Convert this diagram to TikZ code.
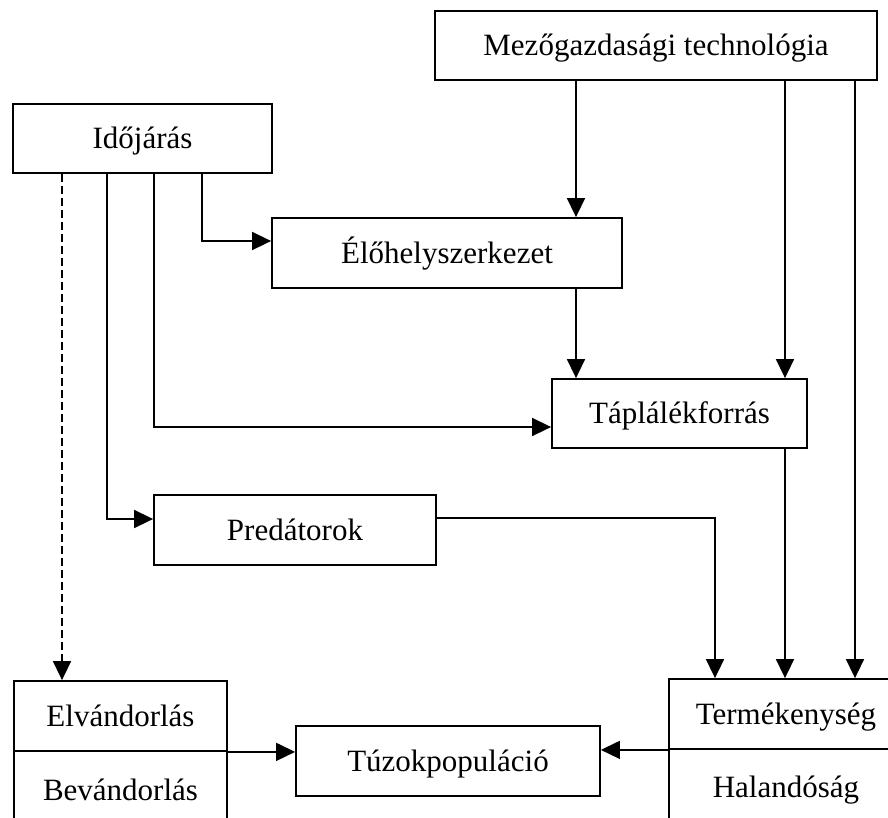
\documentclass[tikz,border=0pt]{standalone}
\usepackage{fontspec}
\setmainfont{Liberation Serif}
\usetikzlibrary{arrows.meta}
\begin{document}
\begin{tikzpicture}[x=1pt,y=-1pt,
  box/.style={draw,line width=1.8pt,rectangle,inner sep=0pt,text height=20pt,text depth=0pt,
    font=\fontsize{31}{37}\selectfont},
  conn/.style={line width=1.6pt,-{Triangle[length=19pt,width=18pt]}}]
\useasboundingbox (0,0) rectangle (888,817);
\clip (0,0) rectangle (888,817);
\fill[white] (0,0) rectangle (888,817);
\node[box,minimum width=442pt,minimum height=69pt] (mezo) at (656,45.5) {Mezőgazdasági technológia};
\node[box,minimum width=259pt,minimum height=69pt] (ido) at (142.5,138.5) {Időjárás};
\node[box,minimum width=350pt,minimum height=70pt] (elo) at (447,253) {Élőhelyszerkezet};
\node[box,minimum width=255pt,minimum height=69pt] (tapl) at (679.5,413.5) {Táplálékforrás};
\node[box,minimum width=282pt,minimum height=70pt] (pred) at (295,530) {Predátorok};
\node[box,minimum width=213pt,minimum height=70pt] (elvU) at (120.5,716) {Elvándorlás};
\node[box,minimum width=213pt,minimum height=79pt] (elvL) at (120.5,790.5) {Bevándorlás};
\node[box,minimum width=304pt,minimum height=70pt] (tuzok) at (448,761) {Túzokpopuláció};
\node[box,minimum width=234pt,minimum height=70pt] (termU) at (786,714) {Termékenység};
\node[box,minimum width=234pt,minimum height=76pt] (termL) at (786,787) {Halandóság};
% from Mezőgazdasági technológia
\draw[conn] (mezo.south -| 576,0) -- (elo.north -| 576,0);
\draw[conn] (mezo.south -| 785,0) -- (tapl.north -| 785,0);
\draw[conn] (mezo.south -| 855,0) -- (termU.north -| 855,0);
% from Időjárás
\draw[conn] (ido.south -| 202,0) |- (elo.west |- 0,241);
\draw[conn] (ido.south -| 154,0) |- (tapl.west |- 0,427);
\draw[conn] (ido.south -| 107,0) |- (pred.west |- 0,519);
\draw[conn,dash pattern=on 8pt off 4pt] (ido.south -| 62,0) -- (elvU.north -| 62,0);
% others
\draw[conn] (elo.south -| 576,0) -- (tapl.north -| 576,0);
\draw[conn] (tapl.south -| 785,0) -- (termU.north -| 785,0);
\draw[conn] (pred.east |- 0,518) -| (termU.north -| 715,0);
\draw[conn] (elvU.south east) -- (tuzok.west |- elvU.south east);
\draw[conn] (termU.south west) -- (tuzok.east |- termU.south west);
\end{tikzpicture}
\end{document}
